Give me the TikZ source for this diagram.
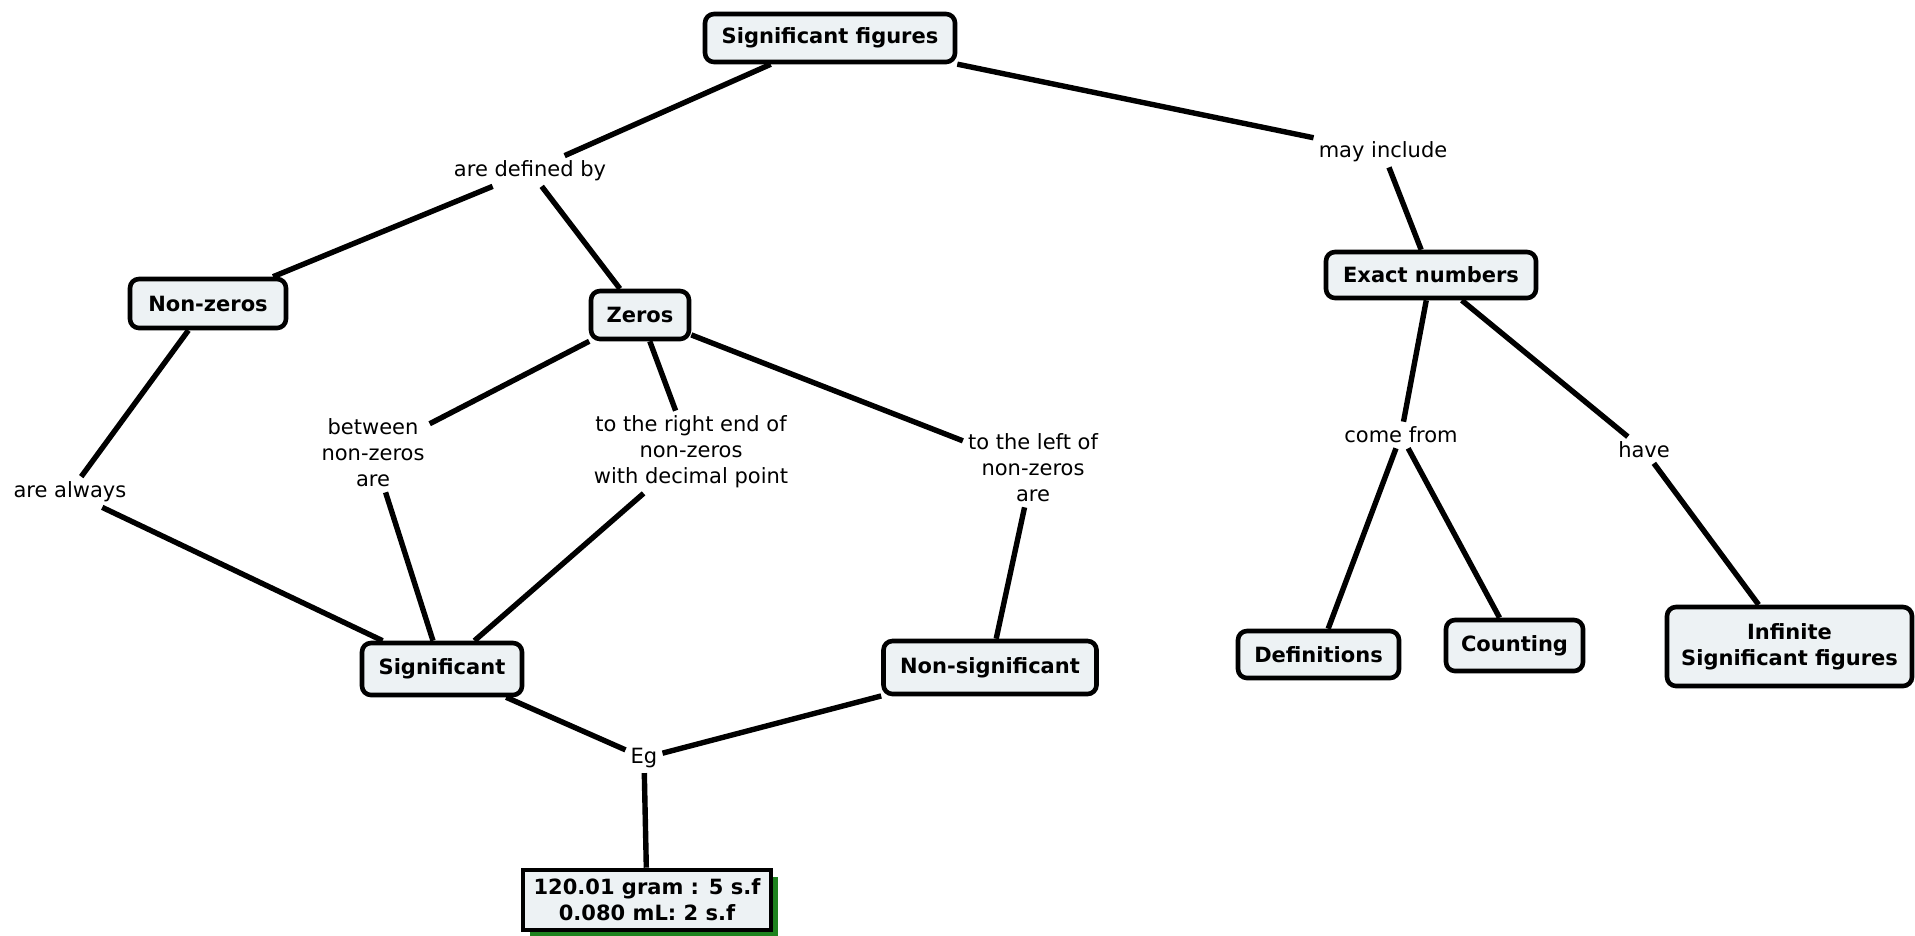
\documentclass[tikz,border=0pt]{standalone}
\usepackage{fontspec}
\setmainfont{DejaVu Sans}
\usetikzlibrary{shadows}
\definecolor{boxfill}{HTML}{EDF2F4}
\definecolor{shadowgreen}{HTML}{1E821E}
\begin{document}
\begin{tikzpicture}[x=1pt,y=-1pt,
  concept/.style={draw=black, line width=4.6pt, rounded corners=9pt, fill=boxfill,
    font=\fontsize{21}{26}\selectfont\bfseries, align=center, inner sep=0pt},
  examplebox/.style={draw=black, line width=4.6pt, fill=boxfill,
    font=\fontsize{21}{26}\selectfont\bfseries, align=center, inner sep=0pt,
    drop shadow={shadow xshift=7pt, shadow yshift=-7pt, fill=shadowgreen, opacity=1}},
  link/.style={font=\fontsize{21}{26}\selectfont, align=center, inner sep=5pt},
  conn/.style={line width=5.4pt}]
\fill[white] (0,0) rectangle (1915,935);
\useasboundingbox (0,0) rectangle (1915,935);

% concepts
\node[concept, minimum width=250pt, minimum height=48pt] (sf) at (830,38) {Significant figures};
\node[concept, minimum width=156pt, minimum height=49pt] (nz) at (208,303.5) {Non-zeros};
\node[concept, minimum width=98pt, minimum height=48pt] (zr) at (640,315) {Zeros};
\node[concept, minimum width=210pt, minimum height=46pt] (ex) at (1431,275) {Exact numbers};
\node[concept, minimum width=160pt, minimum height=52pt] (sg) at (442,669) {Significant};
\node[concept, minimum width=213pt, minimum height=53pt] (ns) at (990,667.5) {Non-significant};
\node[concept, minimum width=161pt, minimum height=47pt] (df) at (1318.5,654.5) {Definitions};
\node[concept, minimum width=137pt, minimum height=51pt] (ct) at (1514.5,645.5) {Counting};
\node[concept, minimum width=245pt, minimum height=79pt] (inf) at (1789.5,646.5) {Infinite\\Significant figures};
\node[examplebox, minimum width=248pt, minimum height=60pt] (eb) at (647,900) {120.01 gram : 5 s.f\\0.080 mL: 2 s.f};

% linking phrases
\node[link] (adb) at (530,171) {are defined by};
\node[link] (mi) at (1383,152) {may include};
\node[link] (aa) at (70,492) {are always};
\node[link] (bt) at (373,453) {between\\non-zeros\\are};
\node[link] (re) at (691,452) {to the right end of\\non-zeros\\with decimal point};
\node[link] (lf) at (1033,468) {to the left of\\non-zeros\\are};
\node[link] (cf) at (1401,435) {come from};
\node[link] (hv) at (1644,450) {have};
\node[link] (eg) at (644,758) {Eg};

% connectors
\draw[conn] (sf) -- (adb);
\draw[conn] (adb) -- (nz);
\draw[conn] (adb) -- (zr);
\draw[conn] (sf) -- (mi);
\draw[conn] (mi) -- (ex);
\draw[conn] (nz) -- (aa);
\draw[conn] (aa) -- (sg);
\draw[conn] (zr) -- (bt);
\draw[conn] (bt) -- (sg);
\draw[conn] (zr) -- (re);
\draw[conn] (re) -- (sg);
\draw[conn] (zr) -- (lf);
\draw[conn] (lf) -- (ns);
\draw[conn] (sg) -- (eg);
\draw[conn] (ns) -- (eg);
\draw[conn] (eg) -- (eb);
\draw[conn] (ex) -- (cf);
\draw[conn] (cf) -- (df);
\draw[conn] (cf) -- (ct);
\draw[conn] (ex) -- (hv);
\draw[conn] (hv) -- (inf);
\end{tikzpicture}
\end{document}
